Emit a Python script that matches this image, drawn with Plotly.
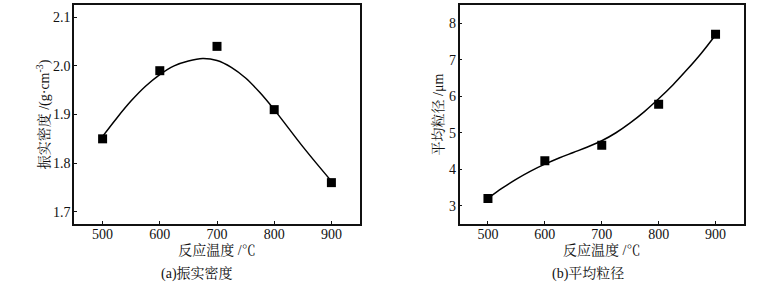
import plotly.graph_objects as go

# Data
temps = [500, 600, 700, 800, 900]
tap_density = [1.85, 1.99, 2.04, 1.91, 1.76]
particle_size = [3.2, 4.23, 4.66, 5.78, 7.7]

# Fitted curves
fit_x = [500, 525, 550, 575, 600, 625, 650, 675, 700, 725, 750, 775, 800, 825, 850, 875, 900]
fit_density = [1.855, 1.893, 1.928, 1.958, 1.982, 2.000, 2.010, 2.015, 2.011, 1.997, 1.975, 1.945,
               1.910, 1.872, 1.834, 1.798, 1.763]
fit_size = [3.2, 3.48, 3.73, 3.95, 4.14, 4.31, 4.46, 4.61, 4.78, 5.00, 5.27, 5.58,
            5.93, 6.31, 6.73, 7.18, 7.68]

x_ticks = [500, 600, 700, 800, 900]
y1_ticks = [1.7, 1.8, 1.9, 2.0, 2.1]
y2_ticks = [3, 4, 5, 6, 7, 8]

FONT = "Liberation Serif, Noto Serif CJK SC, Noto Sans CJK SC"
W, H = 782, 285

fig = go.Figure()
fig.add_trace(go.Scatter(x=fit_x, y=fit_density, mode="lines", line=dict(color="black", width=1.5, shape="spline"),
                         xaxis="x", yaxis="y", showlegend=False, hoverinfo="skip"))
fig.add_trace(go.Scatter(x=temps, y=tap_density, mode="markers", marker=dict(symbol="square", size=9, color="black"),
                         xaxis="x", yaxis="y", showlegend=False))
fig.add_trace(go.Scatter(x=fit_x, y=fit_size, mode="lines", line=dict(color="black", width=1.5, shape="spline"),
                         xaxis="x2", yaxis="y2", showlegend=False, hoverinfo="skip"))
fig.add_trace(go.Scatter(x=temps, y=particle_size, mode="markers", marker=dict(symbol="square", size=9, color="black"),
                         xaxis="x2", yaxis="y2", showlegend=False))

axis_common = dict(showline=True, mirror=True, linecolor="#111", linewidth=1.5, ticks="inside", ticklen=3,
                   tickwidth=1, tickcolor="#111", showgrid=False, zeroline=False, automargin=False,
                   tickfont=dict(family=FONT, size=14, color="#111"))

xtitle = dict(text="反应温度 /℃", font=dict(family=FONT, size=14, color="#111"), standoff=2)

fig.update_layout(
    width=W, height=H,
    margin=dict(l=0, r=0, t=5, b=61),
    paper_bgcolor="white", plot_bgcolor="white",
    xaxis=dict(domain=[74 / W, 360 / W], range=[450, 950], tickvals=x_ticks, anchor="y",
               title=xtitle, ticklabelstandoff=-4, **axis_common),
    yaxis=dict(domain=[0, 1], range=[1.675, 2.125], tickvals=y1_ticks, tickformat=".1f", anchor="x",
               title=dict(text="振实密度 /(g·cm<sup>-3</sup>)", font=dict(family=FONT, size=14, color="#111"), standoff=0),
               ticklabelstandoff=-1, **axis_common),
    xaxis2=dict(domain=[459.5 / W, 744 / W], range=[450, 950], tickvals=x_ticks, anchor="y2",
                title=xtitle, ticklabelstandoff=-4, **axis_common),
    yaxis2=dict(domain=[0, 1], range=[2.5, 8.5], tickvals=y2_ticks, anchor="x2",
                title=dict(text="平均粒径 /μm", font=dict(family=FONT, size=14, color="#111"), standoff=2),
                ticklabelstandoff=-1, **axis_common),
    annotations=[
        dict(text="(a)振实密度", x=197 / W, y=-(273 - 224) / 219, xref="paper", yref="paper",
             showarrow=False, font=dict(family=FONT, size=14, color="#111"), xanchor="center", yanchor="middle"),
        dict(text="(b)平均粒径", x=588 / W, y=-(273 - 224) / 219, xref="paper", yref="paper",
             showarrow=False, font=dict(family=FONT, size=14, color="#111"), xanchor="center", yanchor="middle"),
    ],
)

fig.write_html("out.html", config={"displayModeBar": False},
               post_script="document.body.style.margin='0';document.body.style.overflow='hidden';")
